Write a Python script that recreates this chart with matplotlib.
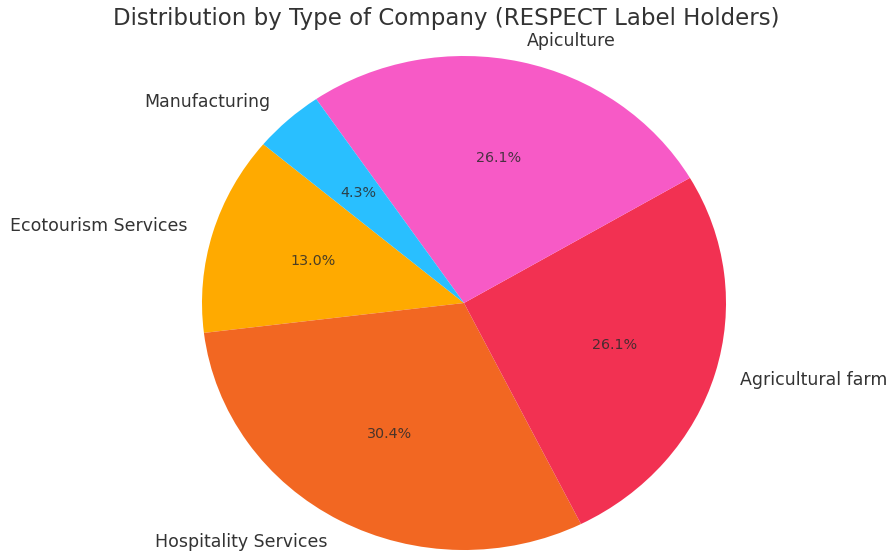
import matplotlib.pyplot as plt

plt.rcParams['font.family'] = ['DejaVu Sans']

# company types of the RESPECT label holders (23 in total)
labels = ['Ecotourism Services', 'Hospitality Services', 'Agricultural farm',
          'Apiculture', 'Manufacturing']
counts = [3, 7, 6, 6, 1]
colors = ['#FFAA00', '#F26722', '#F23152', '#F75AC6', '#29BFFF']

fig = plt.figure(figsize=(8.93, 5.55), dpi=100)
W, H = 893, 555
cx, cy = 464, 303          # pie centre in pixels (from top)
rx, ry = 262, 247          # radius in pixels
a, b = 1.6, 1.02
ax = fig.add_axes([(cx - a * rx) / W, (H - cy - b * ry) / H,
                   2 * a * rx / W, 2 * b * ry / H])

wedges, texts, autotexts = ax.pie(counts, labels=labels, colors=colors,
                                  autopct='%1.1f%%', startangle=140,
                                  textprops={'fontsize': 12.5, 'color': '#333333'})
for t in autotexts:
    t.set_fontsize(10.3)
    t.set_color('#2b2b2b')
    t.set_alpha(0.85)

# nudge the top label down a little so it clears the title
texts[3].set_y(texts[3].get_position()[1] - 0.012)

ax.set_aspect('auto')
ax.set_xlim(-a, a)
ax.set_ylim(-b, b)
ax.axis('off')

fig.text(0.5, 1 - 19 / H, 'Distribution by Type of Company (RESPECT Label Holders)',
         ha='center', va='center', fontsize=16.5, color='#333333')

fig.savefig('out.png', dpi=100)
